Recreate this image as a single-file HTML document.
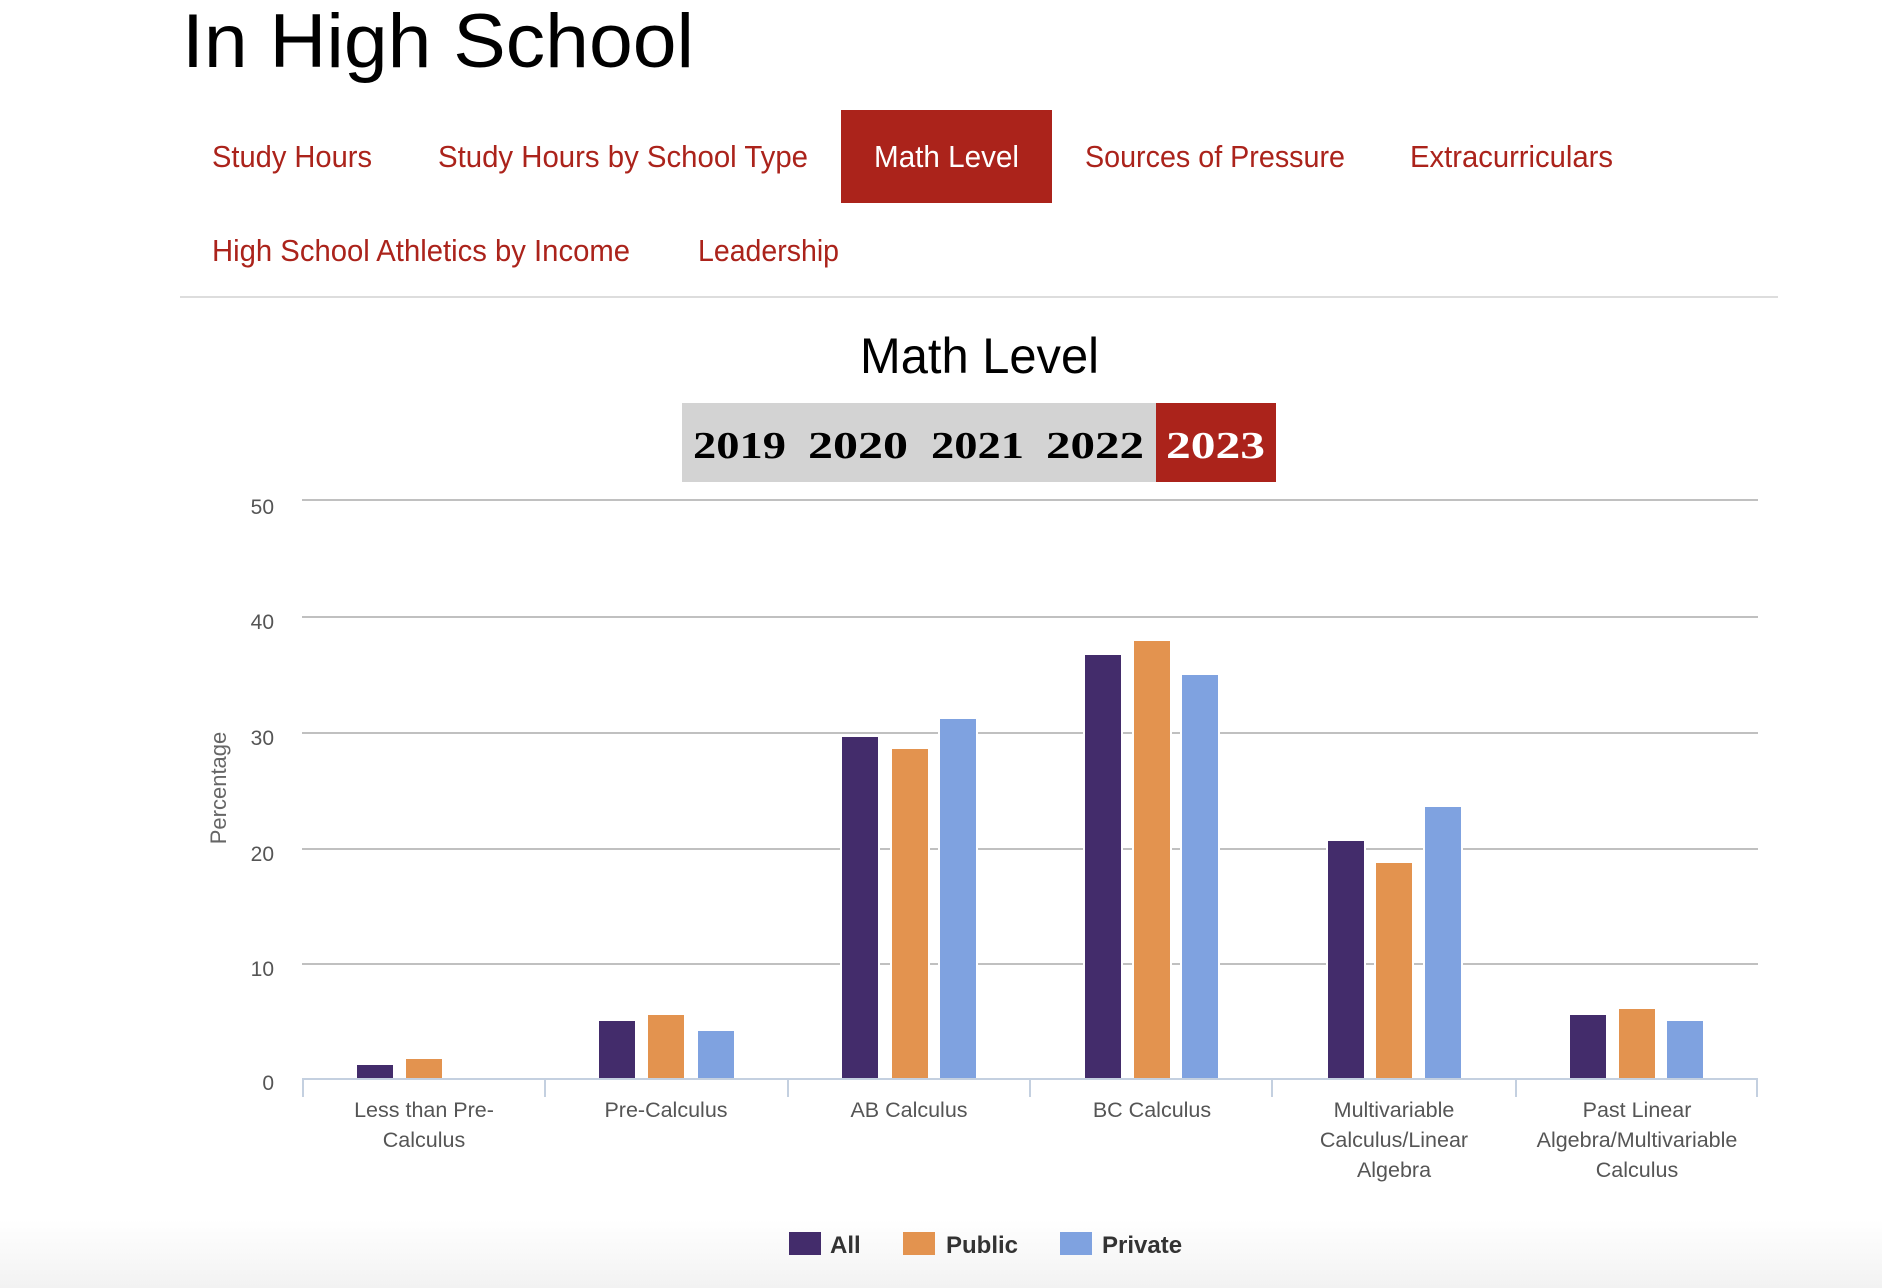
<!DOCTYPE html>
<html><head><meta charset="utf-8"><style>
html,body{margin:0;padding:0;background:#fff;}
svg{display:block;}
</style></head><body>
<svg width="1882" height="1288" viewBox="0 0 1882 1288" xmlns="http://www.w3.org/2000/svg">
<defs><linearGradient id="bg" x1="0" y1="0" x2="0" y2="1"><stop offset="0" stop-color="#fff"/><stop offset="1" stop-color="#f2f2f2"/></linearGradient></defs>
<rect width="1882" height="1288" fill="#fff"/>
<rect x="0" y="1220" width="1882" height="68" fill="url(#bg)"/>
<g font-family="Liberation Sans, sans-serif">
<text x="182" y="67" font-size="76" fill="#000" textLength="512" lengthAdjust="spacingAndGlyphs">In High School</text>
<rect x="841" y="110" width="211" height="93" fill="#ab231b"/>
<g font-size="31" fill="#ab231b">
<text x="212" y="167" textLength="160" lengthAdjust="spacingAndGlyphs">Study Hours</text>
<text x="438" y="167" textLength="370" lengthAdjust="spacingAndGlyphs">Study Hours by School Type</text>
<text x="874" y="167" fill="#fff" textLength="145" lengthAdjust="spacingAndGlyphs">Math Level</text>
<text x="1085" y="167" textLength="260" lengthAdjust="spacingAndGlyphs">Sources of Pressure</text>
<text x="1410" y="167" textLength="203" lengthAdjust="spacingAndGlyphs">Extracurriculars</text>
<text x="212" y="261" textLength="418" lengthAdjust="spacingAndGlyphs">High School Athletics by Income</text>
<text x="698" y="261" textLength="141" lengthAdjust="spacingAndGlyphs">Leadership</text>
</g>
<rect x="180" y="296" width="1598" height="2" fill="#ddd"/>
<text x="860" y="373" font-size="50" fill="#000" textLength="239" lengthAdjust="spacingAndGlyphs">Math Level</text>
</g>
<rect x="682" y="403" width="474" height="79" fill="#d3d3d3"/>
<rect x="1156" y="403" width="120" height="79" fill="#ab231b"/>
<g font-family="Liberation Serif, serif" font-weight="bold" font-size="38" fill="#000">
<text x="693" y="458" textLength="93" lengthAdjust="spacingAndGlyphs">2019</text>
<text x="808" y="458" textLength="100" lengthAdjust="spacingAndGlyphs">2020</text>
<text x="931" y="458" textLength="93" lengthAdjust="spacingAndGlyphs">2021</text>
<text x="1046" y="458" textLength="98" lengthAdjust="spacingAndGlyphs">2022</text>
<text x="1166" y="458" fill="#fff" textLength="99" lengthAdjust="spacingAndGlyphs">2023</text>
</g>
<g stroke="#c0c0c0" stroke-width="2">
<line x1="302" y1="500" x2="1758" y2="500"/>
<line x1="302" y1="617" x2="1758" y2="617"/>
<line x1="302" y1="733" x2="1758" y2="733"/>
<line x1="302" y1="849" x2="1758" y2="849"/>
<line x1="302" y1="964" x2="1758" y2="964"/>
</g>
<g font-family="Liberation Sans, sans-serif" font-size="21" fill="#555" text-anchor="end">
<text x="274" y="514">50</text>
<text x="274" y="629">40</text>
<text x="274" y="745">30</text>
<text x="274" y="861">20</text>
<text x="274" y="976">10</text>
<text x="274" y="1090">0</text>
</g>
<text transform="translate(226,788) rotate(-90)" font-family="Liberation Sans, sans-serif" font-size="22" fill="#666" text-anchor="middle">Percentage</text>
<g stroke="#fff" stroke-width="2">
<g fill="#432c6b">
<rect x="356" y="1064" width="38" height="15"/>
<rect x="598" y="1020" width="38" height="59"/>
<rect x="841" y="736" width="38" height="343"/>
<rect x="1084" y="654" width="38" height="425"/>
<rect x="1327" y="840" width="38" height="239"/>
<rect x="1569" y="1014" width="38" height="65"/>
</g>
<g fill="#e3934f">
<rect x="405" y="1058" width="38" height="21"/>
<rect x="647" y="1014" width="38" height="65"/>
<rect x="891" y="748" width="38" height="331"/>
<rect x="1133" y="640" width="38" height="439"/>
<rect x="1375" y="862" width="38" height="217"/>
<rect x="1618" y="1008" width="38" height="71"/>
</g>
<g fill="#7fa2e0">
<rect x="697" y="1030" width="38" height="49"/>
<rect x="939" y="718" width="38" height="361"/>
<rect x="1181" y="674" width="38" height="405"/>
<rect x="1424" y="806" width="38" height="273"/>
<rect x="1666" y="1020" width="38" height="59"/>
</g>
</g>
<g stroke="#c4d0e0" stroke-width="2">
<line x1="302" y1="1079" x2="1758" y2="1079"/>
<line x1="303" y1="1079" x2="303" y2="1097"/>
<line x1="545" y1="1079" x2="545" y2="1097"/>
<line x1="788" y1="1079" x2="788" y2="1097"/>
<line x1="1030" y1="1079" x2="1030" y2="1097"/>
<line x1="1272" y1="1079" x2="1272" y2="1097"/>
<line x1="1516" y1="1079" x2="1516" y2="1097"/>
<line x1="1757" y1="1079" x2="1757" y2="1097"/>
</g>
<g font-family="Liberation Sans, sans-serif" font-size="21.5" fill="#555" text-anchor="middle">
<text x="424" y="1117">Less than Pre-</text><text x="424" y="1147">Calculus</text>
<text x="666" y="1117">Pre-Calculus</text>
<text x="909" y="1117">AB Calculus</text>
<text x="1152" y="1117">BC Calculus</text>
<text x="1394" y="1117">Multivariable</text><text x="1394" y="1147">Calculus/Linear</text><text x="1394" y="1177">Algebra</text>
<text x="1637" y="1117">Past Linear</text><text x="1637" y="1147">Algebra/Multivariable</text><text x="1637" y="1177">Calculus</text>
</g>
<rect x="789" y="1232" width="32" height="23" fill="#432c6b"/>
<rect x="903" y="1232" width="32" height="23" fill="#e3934f"/>
<rect x="1060" y="1232" width="32" height="23" fill="#7fa2e0"/>
<g font-family="Liberation Sans, sans-serif" font-size="24" font-weight="bold" fill="#333">
<text x="830" y="1253">All</text>
<text x="946" y="1253">Public</text>
<text x="1102" y="1253">Private</text>
</g>
</svg>
</body></html>
